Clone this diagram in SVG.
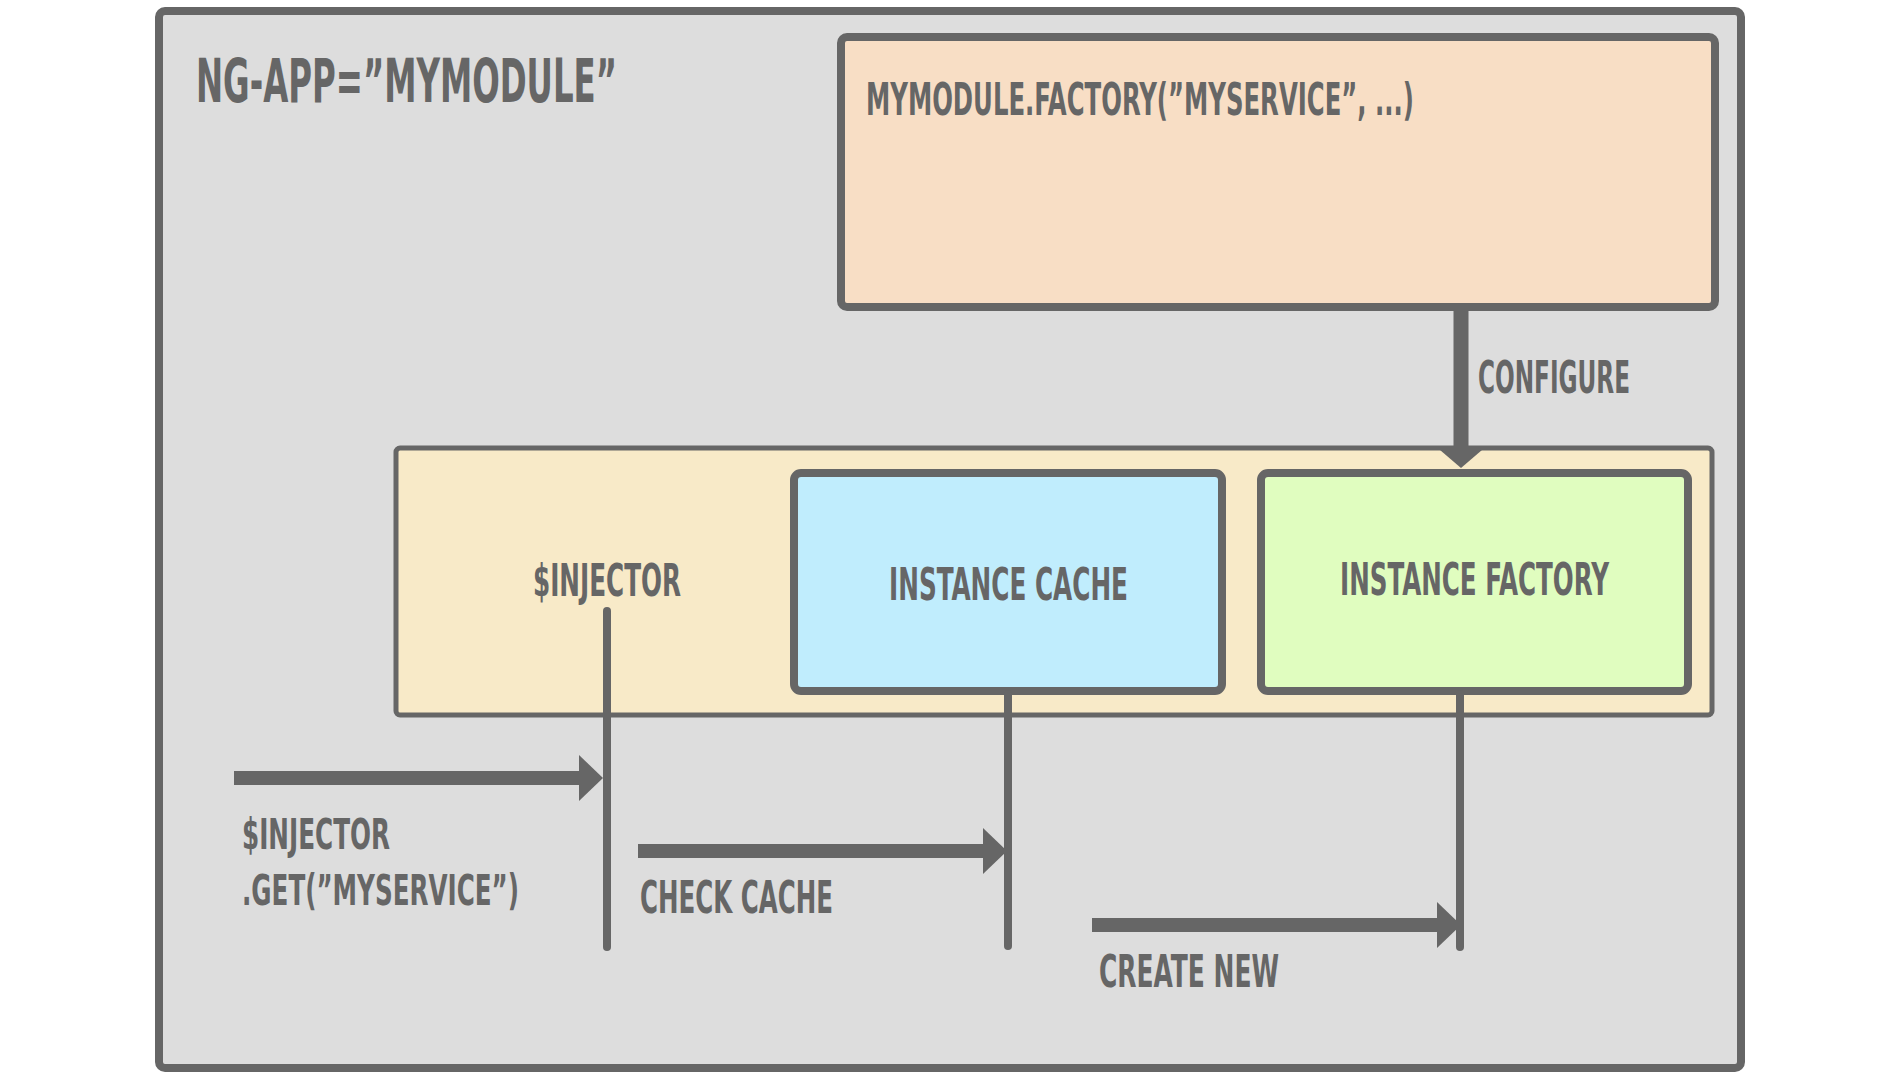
<svg xmlns="http://www.w3.org/2000/svg" width="1900" height="1080" viewBox="0 0 1900 1080">
  <style>
    .box { stroke: #666666; stroke-width: 8; }
    .lbl { font-family: "Liberation Sans Narrow", "DejaVu Sans Condensed", "Liberation Sans", sans-serif; font-weight: bold; fill: #666666; font-size: 45px; }
    .big { font-size: 60px; }
    .small { font-size: 43px; }
    .flow { stroke: #666666; stroke-width: 14; fill: none; }
    .life { stroke: #666666; stroke-width: 8; stroke-linecap: round; fill: none; }
  </style>
  <defs>
    <marker id="head" markerUnits="userSpaceOnUse" markerWidth="25" markerHeight="46" viewBox="0 0 25 46" refX="1" refY="23" orient="auto">
      <path d="M0,0 L24,23 L0,46 Z" fill="#666666"/>
    </marker>
    <marker id="headDown" markerUnits="userSpaceOnUse" markerWidth="19" markerHeight="42" viewBox="0 0 19 42" refX="1" refY="21" orient="auto">
      <path d="M0,0 L18,21 L0,42 Z" fill="#666666"/>
    </marker>
  </defs>

  <rect width="1900" height="1080" fill="#ffffff"/>

  <!-- application module frame -->
  <g id="app">
    <rect class="box" x="159" y="11" width="1582" height="1057" rx="6" fill="#dddddd"/>
    <text class="lbl big" x="196" y="102" textLength="421" lengthAdjust="spacingAndGlyphs">NG-APP=”MYMODULE”</text>
  </g>

  <!-- factory registration -->
  <g id="factory-def">
    <rect class="box" x="841" y="37" width="874" height="270" rx="6" fill="#f8dec5"/>
    <text class="lbl" x="866" y="115" textLength="548" lengthAdjust="spacingAndGlyphs">MYMODULE.FACTORY(”MYSERVICE”, ...)</text>
  </g>

  <!-- injector container -->
  <g id="injector">
    <rect x="396" y="448" width="1316" height="267" rx="4" fill="#f8eac8" stroke="#666666" stroke-width="5"/>
    <text class="lbl" x="533" y="596" textLength="148" lengthAdjust="spacingAndGlyphs">$INJECTOR</text>
  </g>

  <g id="instance-cache">
    <rect class="box" x="794" y="473" width="428" height="218" rx="7" fill="#c0edfd"/>
    <text class="lbl" x="889" y="600" textLength="239" lengthAdjust="spacingAndGlyphs">INSTANCE CACHE</text>
  </g>

  <g id="instance-factory">
    <rect class="box" x="1261" y="473" width="427" height="218" rx="7" fill="#e0fdbf"/>
    <text class="lbl" x="1340" y="595" textLength="269" lengthAdjust="spacingAndGlyphs">INSTANCE FACTORY</text>
  </g>

  <!-- connectors -->
  <g id="connectors">
    <line x1="1461" y1="309" x2="1461" y2="451" stroke="#666666" stroke-width="15" marker-end="url(#headDown)"/>

    <line class="life" x1="607" y1="611" x2="607" y2="947"/>
    <line class="life" x1="1008" y1="694" x2="1008" y2="946"/>
    <line class="life" x1="1460" y1="694" x2="1460" y2="947"/>

    <line class="flow" x1="234" y1="778" x2="580" y2="778" marker-end="url(#head)"/>
    <line class="flow" x1="638" y1="851" x2="984" y2="851" marker-end="url(#head)"/>
    <line class="flow" x1="1092" y1="925" x2="1438" y2="925" marker-end="url(#head)"/>

    <text class="lbl" x="1478" y="393" textLength="152" lengthAdjust="spacingAndGlyphs">CONFIGURE</text>
    <text class="lbl small"><tspan x="242" y="849" textLength="148" lengthAdjust="spacingAndGlyphs">$INJECTOR</tspan><tspan x="242" y="905" textLength="277" lengthAdjust="spacingAndGlyphs">.GET(”MYSERVICE”)</tspan></text>
    <text class="lbl" x="640" y="913" textLength="193" lengthAdjust="spacingAndGlyphs">CHECK CACHE</text>
    <text class="lbl" x="1099" y="987" textLength="180" lengthAdjust="spacingAndGlyphs">CREATE NEW</text>
  </g>
</svg>
